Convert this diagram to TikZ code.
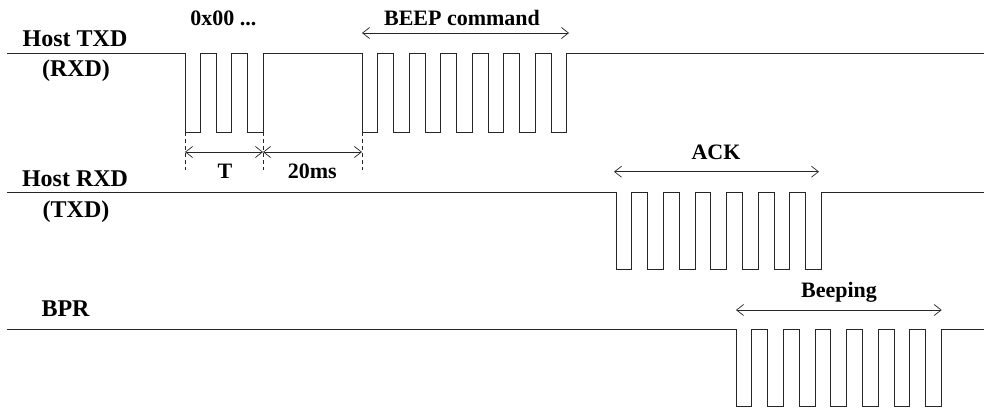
\documentclass[tikz,border=0pt]{standalone}
\usepackage{fontspec}
\setmainfont{Liberation Serif}
\usetikzlibrary{arrows.meta}
\begin{document}
\begin{tikzpicture}[x=1pt,y=-1pt,
  sig/.style={line width=0.8pt, black!85},
  lab/.style={font=\bfseries\fontsize{22}{26}\selectfont, anchor=base, inner sep=0pt},
  siglab/.style={font=\bfseries\fontsize{24}{28}\selectfont, anchor=base, inner sep=0pt},
  span/.style={line width=0.7pt, black!85, {Straight Barb[length=7pt,width=11pt]}-{Straight Barb[length=7pt,width=11pt]}},
  guide/.style={line width=0.7pt, black!85, dash pattern=on 4pt off 3pt}]
\useasboundingbox (0,0) rectangle (984,410);
% ---------- Host TXD waveform ----------
\draw[sig] (7,53.3) -- (185,53.3)
  foreach \i in {0,1,2} { -- ({185+2*\i*15.6},53.3) -- ({185+2*\i*15.6},132) -- ({185+(2*\i+1)*15.6},132) -- ({185+(2*\i+1)*15.6},53.3) }
  -- (362,53.3)
  foreach \i in {0,...,6} { -- ({362+2*\i*15.75},53.3) -- ({362+2*\i*15.75},132) -- ({362+(2*\i+1)*15.75},132) -- ({362+(2*\i+1)*15.75},53.3) }
  -- (984,53.3);
% ---------- Host RXD waveform ----------
\draw[sig] (7,192) -- (616,192)
  foreach \i in {0,...,6} { -- ({616+2*\i*15.8},192) -- ({616+2*\i*15.8},269) -- ({616+(2*\i+1)*15.8},269) -- ({616+(2*\i+1)*15.8},192) }
  -- (984,192);
% ---------- BPR waveform ----------
\draw[sig] (7,329.3) -- (736,329.3)
  foreach \i in {0,...,6} { -- ({736+2*\i*15.8},329.3) -- ({736+2*\i*15.8},406.7) -- ({736+(2*\i+1)*15.8},406.7) -- ({736+(2*\i+1)*15.8},329.3) }
  -- (984,329.3);
% ---------- signal labels ----------
\node[siglab] (ltxd) at (75,46.7) {Host TXD};
\node[siglab] (lrxd1) at (76,76.7) {(RXD)};
\node[siglab] (lrxd) at (75,186.7) {Host RXD};
\node[siglab] (ltxd1) at (76,217.3) {(TXD)};
\node[siglab] (lbpr) at (65.5,316.7) {BPR};
% ---------- span labels ----------
\node[lab] (l0x) at (223.3,25) {0x00 ...};
\node[lab] (lbeep) at (462,25) {BEEP command};
\node[lab] (lack) at (716,159.3) {ACK};
\node[lab] (lbeeping) at (839,297.3) {Beeping};
\node[lab] (lT) at (225,178.3) {T};
\node[lab] (l20) at (312.3,178.3) {20ms};
% ---------- timing guides ----------
\coordinate (g1a) at (185,132);  \coordinate (g1b) at (185,170);
\coordinate (g2a) at (263,132);  \coordinate (g2b) at (263,170);
\coordinate (g3a) at (362,132);  \coordinate (g3b) at (362,170);
\draw[guide] (g1a) -- (g1b);
\draw[guide] (g2a) -- (g2b);
\draw[guide] (g3a) -- (g3b);
\coordinate (d1) at (185,152);
\coordinate (d2) at (263,152);
\coordinate (d3) at (362,152);
\draw[span] (d1) -- (d2);
\draw[span] (d2) -- (d3);
% ---------- span arrows ----------
\coordinate (b1) at (362,33);  \coordinate (b2) at (569,33);
\coordinate (a1) at (614,171.7); \coordinate (a2) at (819,171.7);
\coordinate (p1) at (736,310); \coordinate (p2) at (941.7,310);
\draw[span] (b1) -- (b2);
\draw[span] (a1) -- (a2);
\draw[span] (p1) -- (p2);
\end{tikzpicture}
\end{document}
